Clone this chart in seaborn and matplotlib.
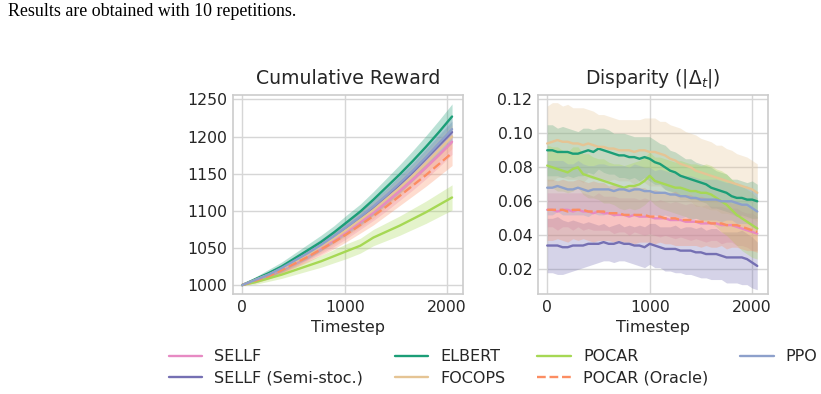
import numpy as np
import pandas as pd
import matplotlib
matplotlib.use("Agg")
import matplotlib.pyplot as plt
import seaborn as sns

# ---------------- data ----------------
methods = ["SELLF", "SELLF (Semi-stoc.)", "ELBERT", "FOCOPS", "POCAR", "POCAR (Oracle)", "PPO"]
colors = ["#e78ac3", "#7570b3", "#1b9e77", "#e5c494", "#a6d854", "#fc8d62", "#8da0cb"]
dashed = ["POCAR (Oracle)"]

t_reward = [0, 128, 256, 384, 512, 640, 768, 896, 1024, 1152, 1280, 1408, 1536, 1664, 1792, 1920, 2048]
reward_mean = {
    "SELLF":              [1000, 1006, 1013, 1021, 1030, 1040, 1050, 1061, 1073, 1085, 1098, 1112, 1127, 1142, 1158, 1175, 1193],
    "SELLF (Semi-stoc.)": [1000, 1007, 1014, 1022, 1032, 1042, 1053, 1065, 1077, 1090, 1104, 1119, 1135, 1152, 1170, 1188, 1206],
    "ELBERT":             [1000, 1008, 1016, 1025, 1036, 1047, 1058, 1071, 1085, 1099, 1115, 1132, 1149, 1167, 1186, 1206, 1227],
    "FOCOPS":             [1000, 1007, 1014, 1022, 1031, 1041, 1052, 1063, 1075, 1088, 1101, 1116, 1131, 1147, 1164, 1182, 1200],
    "POCAR":              [1000, 1004, 1009, 1014, 1020, 1026, 1032, 1039, 1046, 1053, 1064, 1072, 1080, 1089, 1098, 1108, 1118],
    "POCAR (Oracle)":     [1000, 1006, 1012, 1020, 1029, 1038, 1048, 1058, 1069, 1081, 1093, 1106, 1120, 1134, 1148, 1163, 1178],
    "PPO":                [1000, 1007, 1014, 1023, 1033, 1043, 1054, 1066, 1079, 1092, 1106, 1121, 1137, 1154, 1172, 1191, 1210],
}
reward_hw = {
    "SELLF":              [0, 3, 4, 5, 6, 7, 8, 9, 10, 10, 11, 12, 13, 14, 15, 16, 17],
    "SELLF (Semi-stoc.)": [0, 3, 4, 5, 6, 7, 7, 8, 9, 10, 10, 11, 12, 12, 13, 14, 15],
    "ELBERT":             [0, 3, 5, 6, 7, 8, 9, 9, 10, 10, 11, 12, 13, 14, 15, 16, 17],
    "FOCOPS":             [0, 3, 4, 5, 6, 7, 8, 8, 9, 10, 11, 11, 12, 13, 14, 15, 16],
    "POCAR":              [0, 3, 4, 5, 6, 7, 8, 9, 10, 10, 11, 12, 13, 14, 15, 16, 17],
    "POCAR (Oracle)":     [0, 3, 4, 5, 6, 7, 8, 9, 10, 11, 12, 12, 13, 14, 15, 16, 17],
    "PPO":                [0, 3, 4, 5, 6, 7, 8, 8, 9, 10, 11, 11, 12, 13, 14, 15, 16],
}

t_disp = [0, 50, 100, 150, 200, 250, 300, 350, 400, 450, 500, 550, 600, 650, 700, 750, 800, 850, 900, 950, 1000,
          1050, 1100, 1150, 1200, 1250, 1300, 1350, 1400, 1450, 1500, 1550, 1600, 1650, 1700, 1750, 1800, 1850, 1900,
          1950, 2000, 2050]
disp_mean = {
    "SELLF": [0.055, 0.055, 0.054, 0.055, 0.055, 0.054, 0.055, 0.054, 0.054, 0.053, 0.054, 0.053, 0.053, 0.052, 0.052,
              0.052, 0.051, 0.052, 0.051, 0.051, 0.051, 0.050, 0.050, 0.050, 0.049, 0.049, 0.049, 0.048, 0.048, 0.048,
              0.047, 0.047, 0.047, 0.047, 0.046, 0.046, 0.046, 0.045, 0.044, 0.043, 0.042, 0.041],
    "SELLF (Semi-stoc.)": [0.034, 0.034, 0.034, 0.033, 0.033, 0.034, 0.034, 0.034, 0.035, 0.035, 0.035, 0.036, 0.035,
              0.035, 0.036, 0.035, 0.035, 0.034, 0.034, 0.033, 0.035, 0.034, 0.033, 0.032, 0.032, 0.032, 0.031, 0.031,
              0.031, 0.030, 0.030, 0.029, 0.029, 0.029, 0.028, 0.027, 0.027, 0.027, 0.027, 0.026, 0.024, 0.022],
    "ELBERT": [0.090, 0.090, 0.089, 0.089, 0.089, 0.088, 0.088, 0.089, 0.090, 0.089, 0.091, 0.090, 0.089, 0.088, 0.087,
               0.087, 0.086, 0.086, 0.085, 0.086, 0.085, 0.083, 0.082, 0.080, 0.078, 0.077, 0.075, 0.074, 0.073, 0.072,
               0.071, 0.070, 0.068, 0.067, 0.066, 0.065, 0.063, 0.062, 0.062, 0.061, 0.061, 0.060],
    "FOCOPS": [0.094, 0.095, 0.096, 0.095, 0.095, 0.094, 0.094, 0.093, 0.094, 0.093, 0.092, 0.092, 0.091, 0.091, 0.090,
               0.090, 0.090, 0.089, 0.090, 0.090, 0.089, 0.089, 0.088, 0.087, 0.085, 0.084, 0.082, 0.081, 0.080, 0.078,
               0.077, 0.076, 0.075, 0.074, 0.073, 0.072, 0.071, 0.070, 0.069, 0.068, 0.067, 0.065],
    "POCAR": [0.081, 0.080, 0.079, 0.078, 0.077, 0.079, 0.080, 0.076, 0.075, 0.074, 0.073, 0.072, 0.071, 0.070, 0.069,
              0.068, 0.069, 0.069, 0.070, 0.072, 0.075, 0.072, 0.071, 0.070, 0.069, 0.068, 0.068, 0.067, 0.066, 0.066,
              0.065, 0.065, 0.064, 0.062, 0.060, 0.058, 0.055, 0.052, 0.050, 0.048, 0.046, 0.044],
    "POCAR (Oracle)": [0.055, 0.055, 0.055, 0.055, 0.054, 0.055, 0.055, 0.055, 0.054, 0.054, 0.054, 0.054, 0.053,
              0.053, 0.053, 0.052, 0.052, 0.052, 0.052, 0.052, 0.051, 0.051, 0.051, 0.050, 0.050, 0.050, 0.049, 0.049,
              0.049, 0.048, 0.048, 0.048, 0.047, 0.047, 0.047, 0.046, 0.046, 0.046, 0.045, 0.044, 0.043, 0.042],
    "PPO": [0.068, 0.068, 0.069, 0.068, 0.067, 0.067, 0.068, 0.067, 0.066, 0.067, 0.067, 0.067, 0.067, 0.066, 0.067,
            0.067, 0.066, 0.067, 0.067, 0.066, 0.066, 0.065, 0.065, 0.065, 0.064, 0.064, 0.063, 0.063, 0.062, 0.062,
            0.061, 0.061, 0.061, 0.061, 0.060, 0.060, 0.060, 0.059, 0.058, 0.058, 0.056, 0.054],
}
disp_hw = {
    "SELLF": [0.010, 0.010, 0.011, 0.010, 0.010, 0.011, 0.010, 0.011, 0.010, 0.010, 0.011, 0.010, 0.010, 0.011, 0.010,
              0.010, 0.011, 0.010, 0.010, 0.011, 0.010, 0.010, 0.011, 0.010, 0.010, 0.011, 0.010, 0.010, 0.011, 0.010,
              0.010, 0.011, 0.010, 0.010, 0.011, 0.010, 0.010, 0.011, 0.010, 0.010, 0.011, 0.010],
    "SELLF (Semi-stoc.)": [0.016, 0.016, 0.017, 0.016, 0.015, 0.015, 0.014, 0.013, 0.013, 0.012, 0.011, 0.011, 0.010,
              0.011, 0.011, 0.010, 0.011, 0.011, 0.012, 0.012, 0.012, 0.013, 0.012, 0.013, 0.013, 0.014, 0.013, 0.014,
              0.014, 0.014, 0.015, 0.014, 0.015, 0.015, 0.014, 0.015, 0.015, 0.015, 0.016, 0.015, 0.015, 0.014],
    "ELBERT": [0.015, 0.015, 0.014, 0.015, 0.014, 0.014, 0.013, 0.014, 0.013, 0.013, 0.012, 0.013, 0.013, 0.012, 0.013,
               0.013, 0.013, 0.012, 0.013, 0.012, 0.013, 0.013, 0.012, 0.013, 0.012, 0.012, 0.012, 0.011, 0.012, 0.011,
               0.011, 0.011, 0.012, 0.011, 0.011, 0.011, 0.010, 0.011, 0.010, 0.010, 0.011, 0.010],
    "FOCOPS": [0.022, 0.023, 0.022, 0.021, 0.022, 0.021, 0.021, 0.022, 0.020, 0.020, 0.019, 0.019, 0.019, 0.018, 0.018,
               0.018, 0.018, 0.019, 0.018, 0.019, 0.020, 0.020, 0.019, 0.020, 0.020, 0.020, 0.021, 0.020, 0.020, 0.021,
               0.020, 0.020, 0.020, 0.019, 0.020, 0.019, 0.019, 0.018, 0.018, 0.018, 0.017, 0.017],
    "POCAR": [0.012, 0.012, 0.013, 0.012, 0.012, 0.013, 0.012, 0.012, 0.013, 0.012, 0.012, 0.013, 0.012, 0.012, 0.013,
              0.013, 0.013, 0.014, 0.014, 0.014, 0.014, 0.014, 0.015, 0.015, 0.015, 0.015, 0.016, 0.016, 0.016, 0.016,
              0.016, 0.017, 0.017, 0.017, 0.018, 0.018, 0.018, 0.018, 0.019, 0.019, 0.019, 0.018],
    "POCAR (Oracle)": [0.018, 0.018, 0.017, 0.018, 0.018, 0.017, 0.018, 0.017, 0.017, 0.018, 0.017, 0.017, 0.016,
              0.017, 0.016, 0.016, 0.016, 0.017, 0.016, 0.016, 0.015, 0.016, 0.015, 0.015, 0.015, 0.016, 0.015, 0.015,
              0.015, 0.014, 0.015, 0.014, 0.014, 0.014, 0.013, 0.014, 0.013, 0.013, 0.013, 0.013, 0.012, 0.012],
    "PPO": [0.016, 0.016, 0.015, 0.016, 0.015, 0.015, 0.016, 0.015, 0.015, 0.014, 0.015, 0.015, 0.014, 0.015, 0.014,
            0.014, 0.014, 0.015, 0.014, 0.014, 0.014, 0.013, 0.014, 0.013, 0.013, 0.013, 0.013, 0.012, 0.013, 0.012,
            0.012, 0.012, 0.012, 0.012, 0.012, 0.011, 0.011, 0.012, 0.011, 0.011, 0.011, 0.011],
}

caption = "Results are obtained with 10 repetitions."

# ---------------- style ----------------
sns.set_theme(style="whitegrid")
plt.rcParams["font.family"] = ["DejaVu Sans"]
plt.rcParams["axes.edgecolor"] = "#cccccc"
plt.rcParams["grid.color"] = "#d6d6d6"
plt.rcParams["axes.linewidth"] = 1.2
plt.rcParams["grid.linewidth"] = 1.0

fig = plt.figure(figsize=(8.21, 3.94), dpi=100)
ax1 = fig.add_axes([233 / 821, 1 - 294 / 394, 229.5 / 821, 199 / 394])
ax2 = fig.add_axes([538 / 821, 1 - 294 / 394, 229.5 / 821, 199 / 394])


def draw(ax, t, means, hws, band_alpha):
    for m, c in zip(methods, colors):
        mean = np.array(means[m], dtype=float)
        hw = np.array(hws[m], dtype=float)
        df = pd.DataFrame({"t": t, "v": mean})
        sns.lineplot(data=df, x="t", y="v", ax=ax, color=c, lw=1.7, label=m,
                     linestyle="--" if m in dashed else "-")
        ax.fill_between(t, mean - hw, mean + hw, color=c, alpha=band_alpha, lw=0)


draw(ax1, t_reward, reward_mean, reward_hw, 0.3)
draw(ax2, t_disp, disp_mean, disp_hw, 0.3)

for ax in (ax1, ax2):
    ax.set_xlabel("Timestep", fontsize=11.5, color="#262626", labelpad=4)
    ax.set_ylabel("")
    ax.tick_params(labelsize=11.3, colors="#262626", pad=4, length=0)
    ax.set_xticks([0, 1000, 2000])
    for s in ax.spines.values():
        s.set_color("#cccccc")
    ax.get_legend().remove()

ax1.set_xlim(-90, 2150)
ax1.set_ylim(988, 1256)
ax1.set_yticks([1000, 1050, 1100, 1150, 1200, 1250])
ax1.set_title("Cumulative Reward", fontsize=13.6, color="#262626", pad=8)

ax2.set_xlim(-90, 2150)
ax2.set_ylim(0.0055, 0.1225)
ax2.set_yticks([0.02, 0.04, 0.06, 0.08, 0.10, 0.12])
ax2.set_yticklabels(["0.02", "0.04", "0.06", "0.08", "0.10", "0.12"])
ax2.set_title(r"Disparity ($|\Delta_t|$)", fontsize=13.4, color="#262626", pad=8)

handles, labels = ax1.get_legend_handles_labels()
fig.legend(handles, labels, ncol=4, loc="center", bbox_to_anchor=(493 / 821, 1 - 367.5 / 394),
           frameon=False, fontsize=11.5, columnspacing=2.0, handlelength=2.1, handletextpad=0.75,
           labelspacing=0.4, labelcolor="#262626")

fig.text(8 / 821, 1 - 12 / 394, caption, family=["Liberation Serif", "DejaVu Serif"], fontsize=12.9,
         va="center", ha="left", color="black")

fig.savefig("out.png", dpi=100)
